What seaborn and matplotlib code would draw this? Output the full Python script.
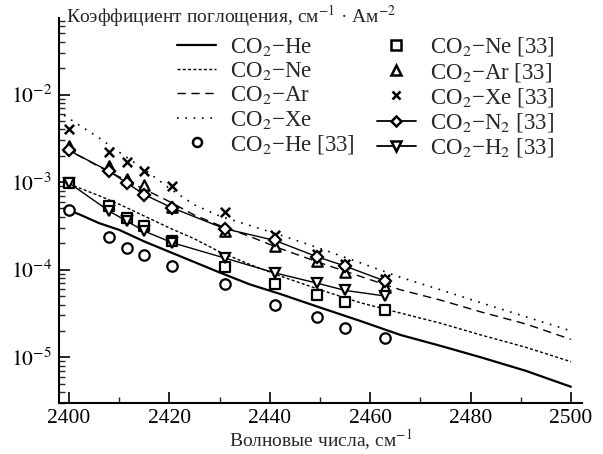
import numpy as np
import pandas as pd
import matplotlib
matplotlib.use("Agg")
import matplotlib.pyplot as plt
from matplotlib.lines import Line2D
import seaborn as sns

# ---- model curves ----
x_curve = [2399, 2402, 2406, 2410, 2415, 2420, 2425, 2430, 2436, 2442, 2450, 2458, 2466, 2474, 2482, 2491, 2500]
he_curve = [5.0e-4, 4.3e-4, 3.4e-4, 2.85e-4, 2.1e-4, 1.6e-4, 1.22e-4, 9.3e-5, 6.8e-5, 5.3e-5, 3.7e-5, 2.6e-5, 1.8e-5, 1.35e-5, 1.0e-5, 7.0e-6, 4.6e-6]
ne_curve = [1.0e-3, 8.6e-4, 7.0e-4, 5.6e-4, 4.1e-4, 3.0e-4, 2.25e-4, 1.6e-4, 1.15e-4, 8.5e-5, 5.9e-5, 4.2e-5, 3.2e-5, 2.45e-5, 1.8e-5, 1.3e-5, 8.9e-6]
ar_curve = [2.4e-3, 2.0e-3, 1.5e-3, 1.15e-3, 8.3e-4, 6.0e-4, 4.2e-4, 3.2e-4, 2.4e-4, 1.75e-4, 1.2e-4, 8.4e-5, 5.9e-5, 4.5e-5, 3.3e-5, 2.4e-5, 1.6e-5]
xe_curve = [5.8e-3, 4.5e-3, 3.2e-3, 2.2e-3, 1.4e-3, 8.5e-4, 5.5e-4, 4.1e-4, 3.2e-4, 2.5e-4, 1.75e-4, 1.2e-4, 8.2e-5, 5.9e-5, 4.2e-5, 2.9e-5, 2.0e-5]

# ---- measured points [33] ----
x_pts = [2400, 2408, 2411.5, 2415, 2420.5, 2431, 2441, 2449.5, 2455, 2463]
he_pts = [4.8e-4, 2.36e-4, 1.77e-4, 1.46e-4, 1.11e-4, 6.9e-5, 4.0e-5, 2.9e-5, 2.15e-5, 1.65e-5]
ne_pts = [9.8e-4, 5.28e-4, 3.93e-4, 3.13e-4, 2.11e-4, 1.07e-4, 6.9e-5, 5.2e-5, 4.3e-5, 3.5e-5]
ar_pts = [2.6e-3, 1.51e-3, 1.09e-3, 9.2e-4, 5.2e-4, 2.8e-4, 1.85e-4, 1.26e-4, 9.4e-5, 6.35e-5]
xe_pts = [4.06e-3, 2.2e-3, 1.69e-3, 1.33e-3, 9.0e-4, 4.6e-4, 2.5e-4, 1.52e-4, 1.17e-4, 7.9e-5]
n2_pts = [2.3e-3, 1.33e-3, 9.8e-4, 7.2e-4, 5.1e-4, 2.94e-4, 2.16e-4, 1.4e-4, 1.1e-4, 7.4e-5]
h2_pts = [9.8e-4, 4.67e-4, 3.59e-4, 2.76e-4, 2.04e-4, 1.36e-4, 9.2e-5, 7.0e-5, 5.8e-5, 5.0e-5]

labels_curve = ["CO$_2$−He", "CO$_2$−Ne", "CO$_2$−Ar", "CO$_2$−Xe"]
labels_pts = ["CO$_2$−He [33]", "CO$_2$−Ne [33]", "CO$_2$−Ar [33]", "CO$_2$−Xe [33]",
              "CO$_2$−N$_2$ [33]", "CO$_2$−H$_2$ [33]"]
xlabel = "Волновые числа, см$^{-1}$"
ylabel = "Коэффициент поглощения, см$^{-1}$ · Ам$^{-2}$"

sns.set_theme(style="ticks")
plt.rcParams["font.family"] = ["Liberation Serif", "DejaVu Serif"]
plt.rcParams["mathtext.fontset"] = "stix"

fig = plt.figure(figsize=(6.03, 4.54), dpi=100)
ax = fig.add_axes([0.0978, 0.1123, 0.8673, 0.8481])

curve_styles = [
    dict(lw=1.6, ls="-"),
    dict(lw=1.0, ls=(0, (2.2, 1.6))),
    dict(lw=1.0, ls=(0, (6, 4))),
    dict(lw=1.2, ls=(0, (1, 4))),
]
handles = []
for yv, lab, st in zip([he_curve, ne_curve, ar_curve, xe_curve], labels_curve, curve_styles):
    df = pd.DataFrame({"x": x_curve, "y": yv})
    sns.lineplot(data=df, x="x", y="y", ax=ax, color="black", linewidth=st["lw"],
                 linestyle=st["ls"], legend=False, sort=False)
    handles.append(Line2D([], [], color="black", lw=st["lw"], ls=st["ls"]))

ms = 7.5
lms = 6.5
mk_specs = [("o", he_pts), ("s", ne_pts), ("^", ar_pts), ("x", xe_pts)]
for mk, yv in mk_specs:
    df = pd.DataFrame({"x": x_pts, "y": yv})
    if mk == "x":
        sns.scatterplot(data=df, x="x", y="y", ax=ax, marker="x", color="black",
                        s=ms ** 2 * 0.8, linewidth=1.8, legend=False, zorder=5)
        handles.append(Line2D([], [], ls="none", marker="x", color="black", ms=lms * 0.9, mew=1.8))
    else:
        sns.scatterplot(data=df, x="x", y="y", ax=ax, marker=mk, facecolor="white",
                        edgecolor="black", s=ms ** 2, linewidth=1.6, legend=False, zorder=5)
        handles.append(Line2D([], [], ls="none", marker=mk, mfc="white", mec="black", ms=lms, mew=1.8))

for mk, yv in [("D", n2_pts), ("v", h2_pts)]:
    df = pd.DataFrame({"x": x_pts, "y": yv})
    msz = ms * 0.85 if mk == "D" else ms
    sns.lineplot(data=df, x="x", y="y", ax=ax, color="black", linewidth=1.0,
                 marker=mk, markersize=msz, markerfacecolor="white",
                 markeredgecolor="black", markeredgewidth=1.6, legend=False, zorder=6)
    handles.append(Line2D([], [], color="black", lw=1.3, marker=mk, mfc="white",
                          mec="black", ms=lms * (0.85 if mk == "D" else 1.0), mew=1.8))

ax.set_yscale("log")
ax.set_xlim(2398, 2502.2)
ax.set_ylim(3.0e-6, 7.5e-2)
ax.set_xticks([2400, 2420, 2440, 2460, 2480, 2500])
ax.set_xticks(np.arange(2410, 2501, 20), minor=True)
ax.yaxis.set_minor_locator(matplotlib.ticker.LogLocator(base=10, subs=np.arange(2, 10), numticks=20))
ax.yaxis.set_minor_formatter(matplotlib.ticker.NullFormatter())
ax.set_yticks([1e-5, 1e-4, 1e-3, 1e-2])
ax.set_yticklabels(["$10^{-5}$", "$10^{-4}$", "$10^{-3}$", "$10^{-2}$"])
ax.tick_params(axis="both", which="major", direction="in", length=8, width=1.2,
               labelsize=15.5, colors="black")
ax.tick_params(axis="both", which="minor", direction="in", length=4, width=1.0)
ax.tick_params(axis="x", pad=4)
ax.tick_params(axis="y", pad=5)
for sp in ["top", "right"]:
    ax.spines[sp].set_visible(False)
for sp in ["left", "bottom"]:
    ax.spines[sp].set_linewidth(1.5)
    ax.spines[sp].set_color("black")

ax.set_xlabel(xlabel, fontsize=14, labelpad=0)
ax.set_ylabel("")
ax.text(0.013, 1.005, ylabel, transform=ax.transAxes, fontsize=14, va="center", ha="left")

leg = ax.legend(handles, labels_curve + labels_pts, ncol=2, loc="upper left",
                bbox_to_anchor=(0.226, 0.955), frameon=False, fontsize=16.5,
                handlelength=1.7, handletextpad=0.62, columnspacing=0.95,
                labelspacing=0.1, borderpad=0, borderaxespad=0)

fig.savefig("out.png", dpi=100)
